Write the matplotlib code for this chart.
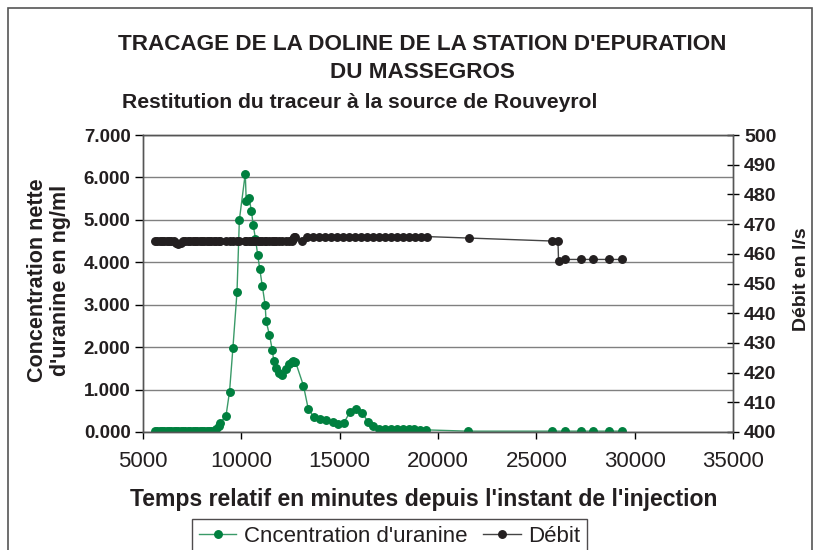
import numpy as np
import matplotlib as mpl
mpl.use('Agg')
import matplotlib.pyplot as plt
from matplotlib.patches import Rectangle

plt.rcParams['font.family'] = ['Liberation Sans', 'DejaVu Sans']

# concentration d'uranine (ng/ml)
t_conc = [5600, 5720, 5840, 5960, 6080, 6200, 6320, 6440, 6560, 6680, 6800,
          6920, 7040, 7160, 7280, 7400, 7520, 7640, 7760, 7880, 8000, 8120,
          8240, 8360, 8480, 8600, 8720, 8840, 8930, 9220, 9400, 9570, 9780,
          9900, 10200, 10250, 10390, 10510, 10600, 10720, 10830, 10940, 11070,
          11210, 11260, 11430, 11570, 11650, 11770, 11900, 12080, 12250, 12410,
          12560, 12620, 12680, 12750, 13160, 13400, 13690, 14000, 14290, 14660,
          14940, 15220, 15510, 15820, 16160, 16440, 16700, 17000, 17300, 17600,
          17900, 18200, 18500, 18800, 19100, 19400, 21500, 25800, 26480, 27260,
          27900, 28720, 29350]
conc = [0.02] * 25 + [
    0.03, 0.07, 0.14, 0.22, 0.38, 0.95, 1.97, 3.30,
    5.00, 6.09, 5.44, 5.52, 5.22, 4.89, 4.55, 4.18, 3.83, 3.43,
    3.00, 2.61, 2.29, 1.94, 1.68, 1.52, 1.38, 1.35, 1.48, 1.60,
    1.66, 1.68, 1.64, 1.66, 1.09, 0.55, 0.35, 0.31, 0.28, 0.24,
    0.18, 0.22, 0.46, 0.55, 0.44, 0.24, 0.14, 0.07, 0.07, 0.08,
    0.07, 0.07, 0.07, 0.06, 0.05, 0.05, 0.02, 0.02, 0.02, 0.02,
    0.02, 0.02, 0.02]

# debit (l/s)
t_deb = t_conc[:57] + [13100] + list(range(13330, 19500, 305)) + \
    [21580, 25800, 26100, 26130, 26480, 27260, 27900, 28720, 29350]
deb = [464.2] * 9 + [463.5, 463.4, 463.5] + [464.2] * 42 + \
    [465.0, 465.6, 465.5] + [464.3] + [465.8] * 21 + \
    [465.3, 464.3, 464.3, 457.5, 458.1, 458.1, 458.1, 458.1, 458.1]

green = '#00803f'
dark = '#231f20'

fig = plt.figure(figsize=(8.21, 5.5), dpi=100)
fig.patches.append(Rectangle((8 / 821, -0.05), 804 / 821, 1 - 8 / 550 + 0.05,
                             transform=fig.transFigure, fill=False,
                             edgecolor='#555555', lw=1.2))
ax = fig.add_axes([143 / 821, 1 - 432 / 550, 590 / 821, 297 / 550])
ax2 = ax.twinx()

l1, = ax.plot(t_conc, conc, '-', color='#3a9a68', lw=1.0, marker='o',
              ms=5.4, mfc=green, mec=green, label="Cncentration d'uranine")
l2, = ax2.plot(t_deb, deb, '-', color='#444444', lw=1.0, marker='o',
               ms=5.4, mfc=dark, mec=dark, label='Débit')

ax.set_xlim(5000, 35000)
ax.set_ylim(0, 7)
ax2.set_ylim(400, 500)
ax.set_xticks(range(5000, 35001, 5000))
ax.set_yticks(np.arange(0, 7.01, 1))
ax.set_yticklabels(['%.3f' % v for v in np.arange(0, 7.01, 1)],
                   fontweight='bold', fontsize=13.5, color=dark)
ax2.set_yticks(range(400, 501, 10))
ax2.set_yticklabels([str(v) for v in range(400, 501, 10)],
                    fontweight='bold', fontsize=14, color=dark)
for lab in ax.get_xticklabels():
    lab.set_fontsize(16)
    lab.set_color(dark)

ax.grid(axis='y', color='#808080', lw=1.0)
ax.set_axisbelow(True)
ax.tick_params(axis='x', direction='out', length=5, width=1, pad=9)
ax.tick_params(axis='y', direction='out', length=6, width=1, pad=3)
ax2.tick_params(axis='y', direction='inout', length=8, width=1, pad=4)
for a in (ax, ax2):
    for s in a.spines.values():
        s.set_color('#555555')
        s.set_linewidth(1.0)

ax.set_xlabel("Temps relatif en minutes depuis l'instant de l'injection",
              fontsize=16.6, fontweight='bold', color=dark)
ax.xaxis.set_label_coords(0.476, -0.19)
ax.set_ylabel("Concentration nette\nd'uranine en ng/ml", fontsize=15.5,
              fontweight='bold', color=dark, linespacing=1.1)
ax.yaxis.set_label_coords(-0.122, 0.51)
ax2.set_ylabel('Débit en l/s', fontsize=14, fontweight='bold', color=dark)
ax2.yaxis.set_label_coords(1.102, 0.515)

fig.text(422 / 821, 1 - 45 / 550, "TRACAGE DE LA DOLINE DE LA STATION D'EPURATION",
         ha='center', va='center', fontsize=16.2, fontweight='bold', color=dark)
fig.text(422 / 821, 1 - 72 / 550, 'DU MASSEGROS', ha='center', va='center',
         fontsize=16.2, fontweight='bold', color=dark)
fig.text(122 / 821, 1 - 103 / 550, 'Restitution du traceur à la source de Rouveyrol',
         ha='left', va='center', fontsize=15.2, fontweight='bold', color=dark)

leg = fig.legend(handles=[l1, l2], loc='upper left',
                 bbox_to_anchor=(192 / 821, 1 - 519 / 550), borderaxespad=0,
                 ncol=2, fontsize=16, frameon=True, fancybox=False,
                 handlelength=1.7, columnspacing=0.7, handletextpad=0.33,
                 borderpad=0.3)
leg.get_frame().set_edgecolor(dark)
leg.get_frame().set_linewidth(1.0)
for txt in leg.get_texts():
    txt.set_color(dark)

fig.savefig('out.png', dpi=100)
